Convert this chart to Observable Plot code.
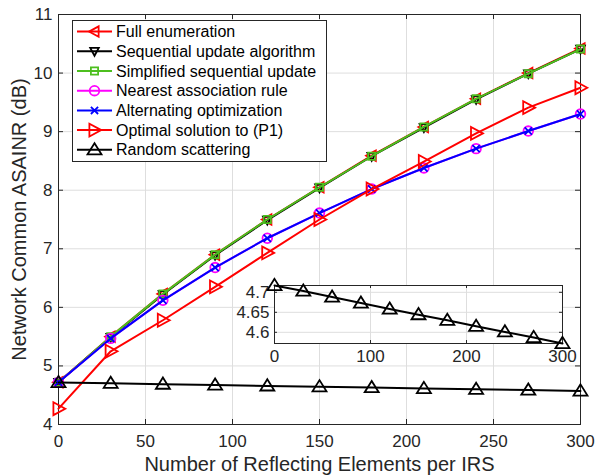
<!DOCTYPE html>
<html><head><meta charset="utf-8">
<script src="https://cdn.jsdelivr.net/npm/d3@7"></script>
<script src="https://cdn.jsdelivr.net/npm/@observablehq/plot@0.6"></script>
<style>
body{margin:0;background:#fff}
#wrap{position:relative;width:595px;height:476px;font-family:"Liberation Sans",Arial,Helvetica,sans-serif}
#wrap > *{position:absolute}
</style>
</head><body><div id="wrap"></div>
<script>
// ---- data ----
const elements = [0, 30, 60, 90, 120, 150, 180, 210, 240, 270, 300];
const fullEnumeration      = [4.72, 5.50, 6.23, 6.90, 7.50, 8.05, 8.59, 9.08, 9.56, 10.00, 10.42];
const sequentialUpdate     = [4.72, 5.49, 6.22, 6.89, 7.49, 8.04, 8.58, 9.07, 9.55, 9.99, 10.41];
const simplifiedSequential = [4.72, 5.50, 6.23, 6.90, 7.50, 8.05, 8.58, 9.08, 9.56, 9.99, 10.41];
const nearestAssociation   = [4.72, 5.47, 6.12, 6.68, 7.18, 7.61, 8.02, 8.38, 8.71, 9.01, 9.30];
const alternatingOpt       = [4.72, 5.47, 6.12, 6.68, 7.18, 7.61, 8.02, 8.38, 8.71, 9.01, 9.30];
const optimalP1            = [4.27, 5.25, 5.78, 6.35, 6.93, 7.50, 8.02, 8.49, 8.97, 9.41, 9.75];
const randomScattering     = [4.717, 4.703, 4.688, 4.673, 4.658, 4.644, 4.630, 4.615, 4.601, 4.587, 4.572];
const seriesNames = ["Full enumeration", "Sequential update algorithm", "Simplified sequential update",
  "Nearest association rule", "Alternating optimization", "Optimal solution to (P1)", "Random scattering"];
const xTicks = [0, 50, 100, 150, 200, 250, 300];
const yTicks = [4, 5, 6, 7, 8, 9, 10, 11];
const insetXTicks = [0, 100, 200, 300];
const insetYTicks = [4.6, 4.65, 4.7];
const xLabel = "Number of Reflecting Elements per IRS";
const yLabel = "Network Common ASAINR (dB)";

// ---- custom MATLAB-like symbols ----
const R = s => Math.sqrt(s / Math.PI);
const triLeft  = {draw(c, s){const r=R(s); c.moveTo(-r,0); c.lineTo(r*0.75,-r*0.95); c.lineTo(r*0.75,r*0.95); c.closePath();}};
const triRight = {draw(c, s){const r=R(s); c.moveTo(r,0); c.lineTo(-r*0.75,-r*0.95); c.lineTo(-r*0.75,r*0.95); c.closePath();}};
const triDown  = {draw(c, s){const r=R(s); c.moveTo(0,r); c.lineTo(-r*0.95,-r*0.75); c.lineTo(r*0.95,-r*0.75); c.closePath();}};
const triUp    = {draw(c, s){const r=R(s); c.moveTo(0,-r*0.95); c.lineTo(-r,r*0.65); c.lineTo(r,r*0.65); c.closePath();}};
const square   = {draw(c, s){const r=R(s); c.rect(-r,-r,2*r,2*r);}};
const circle   = {draw(c, s){const r=R(s); c.moveTo(r,0); c.arc(0,0,r,0,2*Math.PI);}};
const cross    = {draw(c, s){const r=R(s); c.moveTo(-r,-r); c.lineTo(r,r); c.moveTo(-r,r); c.lineTo(r,-r);}};

const valuesList = [fullEnumeration, sequentialUpdate, simplifiedSequential, nearestAssociation, alternatingOpt, optimalP1, randomScattering];
const styles = [
  {color:"#ff0000", symbol:triLeft,  r:5.5},
  {color:"#000000", symbol:triDown,  r:4.5},
  {color:"#4dbf1f", symbol:square,   r:3.6},
  {color:"#ff00ff", symbol:circle,   r:4.8},
  {color:"#0000ff", symbol:cross,    r:3.6},
  {color:"#ff0000", symbol:triRight, r:6.8},
  {color:"#000000", symbol:triUp,    r:7}
];
const rows = seriesNames.map((name, k) => elements.map((n, i) => ({name, n, v: valuesList[k][i]})));

const axisColor = "#262626", gridColor = "#dedede";
const font = '"Liberation Sans", Arial, sans-serif';
const W = 595, H = 476, mL = 58, mR = 15, mT = 14, mB = 52;
const fw = W - mL - mR, fh = H - mT - mB, tl = 5;

const seriesMarks = (k) => [
  Plot.line(rows[k], {x:"n", y:"v", stroke: styles[k].color, strokeWidth: 2}),
  Plot.dot(rows[k], {x:"n", y:"v", symbol: styles[k].symbol, r: styles[k].r, stroke: styles[k].color, strokeWidth: 1.8, fill: "none"})
];

const main = Plot.plot({
  width: W, height: H, marginLeft: mL, marginRight: mR, marginTop: mT, marginBottom: mB,
  style: {fontFamily: font, fontSize: "17px", color: axisColor, background: "white"},
  x: {domain: [0, 300]},
  y: {domain: [4, 11]},
  marks: [
    Plot.ruleX(xTicks, {x: d => d, stroke: gridColor}),
    Plot.ruleY(yTicks, {y: d => d, stroke: gridColor}),
    Plot.tickX(xTicks, {x: d => d, insetTop: fh - tl, stroke: axisColor}),
    Plot.tickX(xTicks, {x: d => d, insetBottom: fh - tl, stroke: axisColor}),
    Plot.tickY(yTicks, {y: d => d, insetRight: fw - tl, stroke: axisColor}),
    Plot.tickY(yTicks, {y: d => d, insetLeft: fw - tl, stroke: axisColor}),
    Plot.axisX({ticks: xTicks, tickSize: 0, tickPadding: 10, label: null, tickFormat: d => d}),
    Plot.axisY({ticks: yTicks, tickSize: 0, tickPadding: 6, label: null, tickFormat: d => d}),
    Plot.frame({stroke: axisColor}),
    ...seriesNames.flatMap((_, k) => seriesMarks(k)),
    Plot.text([xLabel], {text: d => d, frameAnchor: "bottom", lineAnchor: "middle", textAnchor: "middle", dy: 40, fontSize: 20, fill: axisColor}),
    Plot.text([yLabel], {text: d => d, frameAnchor: "left", lineAnchor: "middle", textAnchor: "middle", dx: -39, rotate: -90, fontSize: 20, fill: axisColor})
  ]
});
main.style.left = "0px"; main.style.top = "0px";
document.getElementById("wrap").appendChild(main);

// ---- inset ----
const iL = 48, iR = 16, iT = 10, iB = 26, iW = 352, iH = 94;
const ifw = iW - iL - iR, ifh = iH - iT - iB, itl = 3;
const k = 6;
const inset = Plot.plot({
  width: iW, height: iH, marginLeft: iL, marginRight: iR, marginTop: iT, marginBottom: iB,
  style: {fontFamily: font, fontSize: "17px", color: axisColor, background: "transparent", overflow: "visible"},
  x: {domain: [0, 300]},
  y: {domain: [4.572, 4.717]},
  marks: [
    Plot.frame({fill: "white"}),
    Plot.ruleX(insetXTicks, {x: d => d, stroke: gridColor}),
    Plot.ruleY(insetYTicks, {y: d => d, stroke: gridColor}),
    Plot.tickX(insetXTicks, {x: d => d, insetTop: ifh - itl, stroke: axisColor}),
    Plot.tickX(insetXTicks, {x: d => d, insetBottom: ifh - itl, stroke: axisColor}),
    Plot.tickY(insetYTicks, {y: d => d, insetRight: ifw - itl, stroke: axisColor}),
    Plot.tickY(insetYTicks, {y: d => d, insetLeft: ifw - itl, stroke: axisColor}),
    Plot.axisX({ticks: insetXTicks, tickSize: 0, tickPadding: 6, label: null, tickFormat: d => d}),
    Plot.axisY({ticks: insetYTicks, tickSize: 0, tickPadding: 5, label: null, tickFormat: d => d}),
    Plot.frame({stroke: axisColor}),
    ...seriesMarks(k)
  ]
});
inset.style.left = (274 - iL) + "px"; inset.style.top = (285 - iT) + "px";
document.getElementById("wrap").appendChild(inset);

// ---- legend (overlay) ----
const lgW = 255, lgH = 142, rowH = 19.7, rowY0 = 11.6;
const lg = d3.create("svg").attr("width", lgW).attr("height", lgH)
  .style("left", "72px").style("top", "20px").style("overflow", "visible");
lg.append("rect").attr("x", 0.5).attr("y", 0.5).attr("width", lgW - 1).attr("height", lgH - 1)
  .attr("fill", "white").attr("stroke", axisColor);
seriesNames.forEach((name, i) => {
  const y = rowY0 + i * rowH, st = styles[i];
  const g = lg.append("g");
  g.append("line").attr("x1", 5).attr("x2", 40).attr("y1", y).attr("y2", y).attr("stroke", st.color).attr("stroke-width", 2);
  g.append("path").attr("d", d3.symbol(st.symbol, st.r * st.r * Math.PI)()).attr("transform", `translate(22.5,${y})`)
    .attr("fill", "none").attr("stroke", st.color).attr("stroke-width", 1.8);
  g.append("text").attr("x", 44).attr("y", y).attr("dy", "0.35em").attr("fill", "#000")
    .style("font-family", font).style("font-size", "16px").text(name);
});
document.getElementById("wrap").appendChild(lg.node());
</script>
</body></html>
